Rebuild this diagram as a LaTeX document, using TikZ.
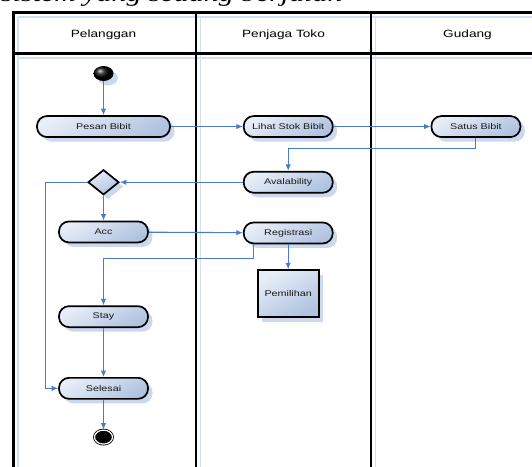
\documentclass[tikz,border=0pt]{standalone}
\usepackage{fontspec}
\setmainfont{Liberation Sans}[FakeStretch=1.3]
\newfontfamily\judulfont{Liberation Serif}[FakeStretch=1.3]
\usetikzlibrary{positioning,shapes.geometric,shadows,arrows.meta}
\definecolor{tbiru}{HTML}{4A7BC8}
\definecolor{tmuda}{HTML}{E8EEF8}
\definecolor{ttua}{HTML}{AFC2E0}
\definecolor{tbayang}{HTML}{CBD8EE}
\definecolor{tgaris}{HTML}{D3DFF2}

\begin{document}
\begin{tikzpicture}[
    x=1pt, y=-1pt,
    >={Latex[length=6.5pt, width=5.5pt]},
    bayang/.style={drop shadow={shadow xshift=4.5pt, shadow yshift=-4.5pt,
                   fill=tbayang, opacity=1}},
    aktivitas/.style={draw, rectangle, rounded corners=10pt, minimum width=89pt,
                      minimum height=21pt, inner sep=1pt, line width=1.7pt,
                      top color=tmuda, bottom color=ttua, shading angle=30,
                      font=\fontsize{8.3}{9}\selectfont, text=black!90, bayang},
    keputusan/.style={draw, diamond, minimum width=31pt, minimum height=25pt,
                      inner sep=0pt, line width=1.7pt, top color=tmuda,
                      bottom color=ttua, shading angle=30, bayang},
    proses/.style={draw, rectangle, minimum width=61pt, minimum height=47pt,
                   line width=1.7pt, top color=tmuda, bottom color=ttua,
                   shading angle=30, font=\fontsize{8.3}{9}\selectfont,
                   text=black!90, bayang},
    titikawal/.style={ellipse, minimum width=20pt, minimum height=15pt,
                      inner sep=0pt, ball color=black, bayang},
    titikakhir/.style={ellipse, minimum width=18pt, minimum height=14pt,
                       inner sep=0pt, fill=black, draw=black, double=white,
                       double distance=1.2pt, line width=0.8pt},
    kepala/.style={font=\fontsize{10.5}{12}\selectfont},
    judul/.style={font=\judulfont\itshape\fontsize{23}{26}\selectfont, inner sep=0pt},
    alur/.style={->, tbiru, line width=1.1pt},
    lajur/.style={line width=2.4pt},
    lajurmuda/.style={tgaris, line width=1.3pt}
  ]
  \useasboundingbox (0,0) rectangle (532,466);
  \clip (0,0) rectangle (532,466);
  \node[judul, anchor=base west] (judul) at (1,1.5) {sistem yang sedang berjalan};

  % lajur
  \draw[lajurmuda] (18,17) -- (570,17);
  \draw[lajurmuda] (18,58) -- (570,58);
  \draw[lajurmuda] (18,17) -- (18,470);
  \draw[lajurmuda] (200.3,17) -- (200.3,470);
  \draw[lajurmuda] (375.2,17) -- (375.2,470);
  \draw[lajur] (13.6,470) -- (13.6,12.5) -- (570,12.5);
  \draw[lajur] (13.6,53.5) -- (570,53.5);
  \draw[lajur] (195.8,12.5) -- (195.8,470);
  \draw[lajur] (370.7,12.5) -- (370.7,470);
  \node[kepala] (pelanggan) at (103.5,34.5) {Pelanggan};
  \node[kepala] (penjaga) at (283.5,34.5) {Penjaga Toko};
  \node[kepala] (gudang) at (467.5,34.5) {Gudang};

  \node[titikawal] (mulai) at (103.5,73.5) {};
  \node[aktivitas, minimum width=133pt] (pesan) [below=34pt of mulai] {Pesan Bibit};
  \node[aktivitas] (lihat) [right=72pt of pesan] {Lihat Stok Bibit};
  \node[aktivitas] (satus) [right=97pt of lihat] {Satus Bibit};
  \node[aktivitas] (avail) [below=33pt of lihat] {Avalability};
  \node[keputusan] (cek) at (mulai |- avail) {};
  \node[aktivitas] (acc) [below=25pt of cek] {Acc};
  \node[aktivitas] (reg) [below=28pt of avail] {Registrasi};
  \node[proses] (pilih) [below=25pt of reg] {Pemilihan};
  \node[aktivitas] (stay) [below=62pt of acc] {Stay};
  \node[aktivitas] (selesai) [below=49pt of stay] {Selesai};
  \node[titikakhir] (akhir) [below=30pt of selesai] {};

  \draw[alur] (mulai) -- (pesan);
  \draw[alur] (pesan) -- (lihat);
  \draw[alur] (lihat) -- (satus);
  \draw[alur] (satus.south) -- ++(0,11) -| (avail);
  \draw[alur] (avail) -- (cek);
  \draw[alur] (cek.west) -- ++(-41.5,0) |- (selesai.west);
  \draw[alur] (cek) -- (acc);
  \draw[alur] (acc) -- (reg);
  \draw[alur] ([xshift=-35pt]reg.south) -- ++(0,14) -| (stay);
  \draw[alur] (reg) -- (pilih);
  \draw[alur] (stay) -- (selesai);
  \draw[alur] (selesai) -- (akhir);
\end{tikzpicture}
\end{document}
